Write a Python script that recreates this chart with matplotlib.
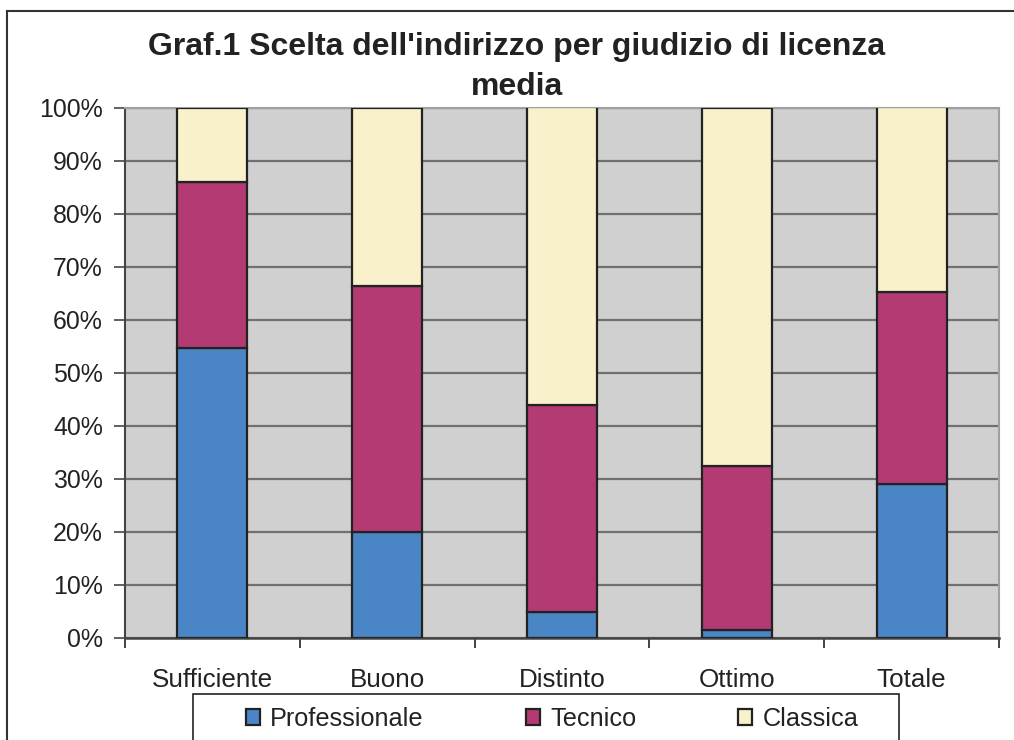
import matplotlib
matplotlib.use("Agg")
import matplotlib.pyplot as plt
from matplotlib.patches import Rectangle
from matplotlib.lines import Line2D
import numpy as np

plt.rcParams['font.family'] = ['Liberation Sans', 'DejaVu Sans']

categories = ["Sufficiente", "Buono", "Distinto", "Ottimo", "Totale"]
professionale = [54.6, 19.9, 4.9, 1.5, 29.0]
tecnico = [31.3, 46.5, 38.9, 30.9, 36.2]
classica = [14.1, 33.6, 56.2, 67.6, 34.8]
series_names = ["Professionale", "Tecnico", "Classica"]
colors = ["#4a86c5", "#b43a74", "#f9f1cc"]
yticks = [0, 10, 20, 30, 40, 50, 60, 70, 80, 90, 100]
title = "Graf.1 Scelta dell'indirizzo per giudizio di licenza\nmedia"

W, H = 1014, 740
fig = plt.figure(figsize=(W / 100, H / 100), dpi=100)
ax = fig.add_axes([125 / W, 1 - 637.7 / H, (999 - 125) / W, (637.7 - 107.5) / H])
ax.set_facecolor("#d0d0d0")

x = np.arange(len(categories))
data = [professionale, tecnico, classica]
bottom = np.zeros(len(categories))
handles = []
for vals, col, name in zip(data, colors, series_names):
    vals = np.array(vals)
    h = ax.bar(x, vals, width=0.4, bottom=bottom, color=col, edgecolor="#222222",
               linewidth=1.6, label=name, zorder=3)
    handles.append(h)
    bottom = bottom + vals

ax.set_xlim(-0.5, len(categories) - 0.5)
ax.set_ylim(0, 100)
ax.set_yticks(yticks)
ax.set_yticklabels([f"{v}%" for v in yticks], fontsize=17.9, color="#222222")
ax.yaxis.grid(True, color="#707070", linewidth=1.6, zorder=1)
ax.set_axisbelow(True)

ax.set_xticks(x)
ax.set_xticklabels(categories, fontsize=18.7, color="#222222")
ax.set_xticks(np.arange(-0.5, len(categories)), minor=True)
ax.tick_params(axis="x", which="major", length=0, pad=22)
ax.tick_params(axis="x", which="minor", length=7, width=1.2, color="#222222")
ax.tick_params(axis="y", length=8, width=1.2, color="#444444", pad=8)

for side in ["top", "right"]:
    ax.spines[side].set_color("#a0a0a0")
    ax.spines[side].set_linewidth(1.5)
ax.spines["left"].set_color("#444444")
ax.spines["left"].set_linewidth(1.5)
ax.spines["bottom"].set_color("#444444")
ax.spines["bottom"].set_linewidth(1.8)

fig.text(517 / W, 1 - 67 / H, title, ha="center", va="center", fontsize=23,
         fontweight="bold", color="#222222", linespacing=1.4)

# outer frame
fig.add_artist(Line2D([7 / W, 7 / W], [0, 1 - 11 / H], transform=fig.transFigure,
                      color="#333333", linewidth=1.5))
fig.add_artist(Line2D([7 / W, 1], [1 - 11 / H, 1 - 11 / H], transform=fig.transFigure,
                      color="#333333", linewidth=1.5))

# legend box
fig.add_artist(Rectangle((193 / W, -0.01), (899 - 193) / W, 0.01 + (740 - 694) / H,
                         transform=fig.transFigure, facecolor="white",
                         edgecolor="#222222", linewidth=1.2))
leg = fig.legend(handles=handles, labels=series_names, loc="center left",
                 bbox_to_anchor=(246 / W, 1 - 719 / H), ncol=3, frameon=False,
                 fontsize=18.2, handlelength=0.55, handleheight=0.55,
                 handletextpad=0.4, columnspacing=4.05, borderpad=0,
                 borderaxespad=0)
for t in leg.get_texts():
    t.set_color("#222222")

fig.savefig("out.png", dpi=100)
